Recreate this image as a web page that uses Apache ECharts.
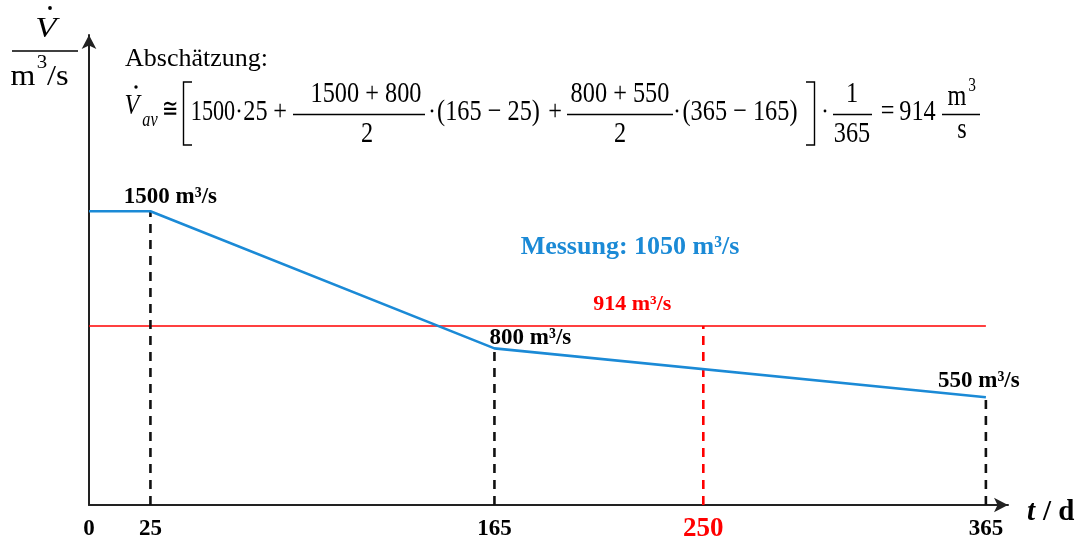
<!DOCTYPE html>
<html>
<head>
<meta charset="utf-8">
<script src="https://cdn.jsdelivr.net/npm/echarts@6/dist/echarts.min.js"></script>
<style>
  html, body { margin: 0; padding: 0; background: #fff; }
  #chart { width: 1081px; height: 540px; }
</style>
</head>
<body>
<div id="chart"></div>
<script>
// Flow over the year: piecewise linear approximation
const days = [0, 25, 165, 365];
const flow = [1500, 1500, 800, 550];
// Points of the hydrograph that carry a value label
const labelDays = [25, 165, 365];
// Dashed drop lines from the kink points down to the time axis
const dropDays = [25, 165, 365];
// Estimated mean flow and the day where the hydrograph reaches it
const meanFlow = 914;
const meanDay = 250;
// Measured mean flow
const measuredFlow = 1050;
// Tick labels on the time axis
const xTicks = [0, 25, 165, 250, 365];

const SERIF = '"Liberation Serif","Times New Roman",serif';
const BLUE = '#1b8ad6';
const RED = '#ff0000';

const flowAt = d => flow[days.indexOf(d)];
const unit = ' m\u00b3/s';

const chart = echarts.init(document.getElementById('chart'), null, { renderer: 'canvas' });

// ---- formula drawing helpers (graphic component) ----
const SX = 0.81;
const FS = 30;
function t(x, y, s, o = {}) {
  return {
    type: 'text', x: x, y: y, scaleX: o.sx != null ? o.sx : SX,
    style: {
      text: s,
      fill: o.fill || '#000',
      fontFamily: o.family || SERIF,
      fontSize: o.size || FS,
      fontStyle: o.italic ? 'italic' : 'normal',
      fontWeight: o.bold ? 'bold' : 'normal',
      align: o.align || 'center',
      verticalAlign: 'middle'
    }
  };
}
function hl(x1, x2, y, w) {
  return { type: 'line', shape: { x1: x1, y1: y, x2: x2, y2: y }, style: { stroke: '#000', lineWidth: w || 1.4 } };
}
function poly(pts, w) {
  return { type: 'polyline', shape: { points: pts }, style: { stroke: '#000', lineWidth: w || 1.4, fill: null } };
}
function dot(x, y, r) {
  return { type: 'circle', shape: { cx: x, cy: y, r: r || 1.7 }, style: { fill: '#000' } };
}
function frac(x1, x2, num, den, numX, denX) {
  const cNum = numX != null ? numX : (x1 + x2) / 2;
  const cDen = denX != null ? denX : (x1 + x2) / 2;
  return [hl(x1, x2, 114.5), t(cNum, 94, num), t(cDen, 134.5, den)];
}

const ROW = 112;
const formula = [].concat(
  [t(125, 59, 'Absch\u00e4tzung:', { size: 26, sx: 1, align: 'left' })],
  // V-dot with subscript av
  [t(132, 106, 'V', { italic: true, size: 30 }), dot(136, 87), t(150, 121, 'av', { italic: true, size: 20 })],
  [t(170, 110, '\u2245', { size: 26, family: '"DejaVu Serif",serif', sx: 0.75 })],
  [poly([[192, 82], [183.5, 82], [183.5, 145], [192, 145]])],
  [t(213, ROW, '1500', { sx: 0.74 }), dot(239, 111, 1.4), t(255.5, ROW, '25'), t(280, ROW, '+')],
  frac(293, 425, '1500 + 800', '2', 366, 367),
  [dot(432, 111, 1.4), t(488.5, ROW, '(165 \u2212 25)'), t(555, ROW, '+')],
  frac(567, 673, '800 + 550', '2', 620, 620),
  [dot(677, 111, 1.4), t(740, ROW, '(365 \u2212 165)')],
  [poly([[806, 82], [814.5, 82], [814.5, 145], [806, 145]])],
  [dot(825, 111, 1.4)],
  frac(833, 872, '1', '365', 852, 852),
  [t(887.5, ROW, '='), t(917.5, ROW, '914')],
  [hl(942, 980, 114.5), t(957, 97, 'm'), t(972, 86, '3', { size: 19 }), t(962, 130, 's')]
);

// Vertical axis title: V-dot over m^3/s
const yTitle = [
  t(46, 29, 'V', { italic: true, size: 29, sx: 1.2 }),
  dot(50, 8, 1.9),
  hl(12, 78, 51, 1.5),
  t(23, 77, 'm', { size: 29, sx: 1.1 }),
  t(42, 63, '3', { size: 19, sx: 1.1 }),
  t(47, 77, '/s', { size: 29, sx: 1.12, align: 'left' })
];

// Time axis title: t / d
const xTitle = [
  t(1027, 513, 't', { italic: true, bold: true, size: 29, sx: 1, align: 'left' }),
  t(1043, 513, '/ d', { bold: true, size: 29, sx: 1, align: 'left' })
];

const measuredLabel = [
  t(630, 247, 'Messung: ' + measuredFlow + unit, { bold: true, size: 26, sx: 1, fill: BLUE })
];

// Offsets of the value labels above the hydrograph points
const pointLabelOffset = { 25: [20, 2], 165: [36, 6], 365: [-7, 0] };

const dashBlack = dropDays.map(d => ({
  type: 'line', symbol: 'none', silent: true, z: 2,
  data: [[d, 0], [d, flowAt(d)]],
  lineStyle: { color: '#111', width: 2.6, type: [9, 7] }
}));

const option = {
  animation: false,
  backgroundColor: '#fff',
  grid: { left: 89, right: 73, top: 35, bottom: 35, outerBoundsMode: 'none', containLabel: false },
  xAxis: {
    type: 'value', min: 0, max: 374,
    axisLine: {
      show: true, onZero: false,
      symbol: ['none', 'arrow'], symbolSize: [11, 14],
      lineStyle: { color: '#222', width: 2 }
    },
    axisTick: { show: false },
    splitLine: { show: false },
    axisLabel: {
      customValues: xTicks,
      margin: 11,
      formatter: v => (v === meanDay ? '{r|' + v + '}' : '{b|' + v + '}'),
      rich: {
        b: { fontFamily: SERIF, fontWeight: 'bold', fontSize: 23, color: '#000', lineHeight: 26 },
        r: { fontFamily: SERIF, fontWeight: 'bold', fontSize: 27, color: RED, lineHeight: 26 }
      }
    }
  },
  yAxis: {
    type: 'value', min: 0, max: 2400,
    axisLine: {
      show: true, onZero: false,
      symbol: ['none', 'arrow'], symbolSize: [11, 14],
      lineStyle: { color: '#222', width: 2 }
    },
    axisTick: { show: false },
    splitLine: { show: false },
    axisLabel: { show: false }
  },
  graphic: { elements: [].concat(formula, yTitle, xTitle, measuredLabel) },
  series: [
    // estimated mean as a horizontal line
    {
      type: 'line', symbol: 'none', silent: true, z: 2,
      data: [[0, meanFlow], [days[days.length - 1], meanFlow]],
      lineStyle: { color: RED, width: 1.3 }
    },
    // day where the mean is reached
    {
      type: 'line', symbol: 'none', silent: true, z: 2,
      data: [[meanDay, 0], [meanDay, meanFlow]],
      lineStyle: { color: RED, width: 2.6, type: [9, 7] }
    },
    {
      type: 'scatter', symbolSize: 0, silent: true, z: 4,
      itemStyle: { opacity: 1 },
      data: [[meanDay, meanFlow]],
      label: {
        show: true, position: 'top', offset: [-71, -6],
        formatter: meanFlow + unit,
        fontFamily: SERIF, fontWeight: 'bold', fontSize: 22, color: RED
      }
    }
  ].concat(dashBlack, [
    {
      type: 'line', symbol: 'none', silent: true, z: 5,
      data: days.map((d, i) => [d, flow[i]]),
      lineStyle: { color: BLUE, width: 2.6 }
    },
    // value labels at the hydrograph points
    {
      type: 'scatter', symbolSize: 0, silent: true, z: 6,
      itemStyle: { opacity: 1 },
      data: labelDays.map(d => ({
        value: [d, flowAt(d)],
        label: { offset: pointLabelOffset[d] }
      })),
      label: {
        show: true, position: 'top',
        formatter: p => p.value[1] + unit,
        fontFamily: SERIF, fontWeight: 'bold', fontSize: 23, color: '#000'
      }
    }
  ])
};

chart.setOption(option);
</script>
</body>
</html>
